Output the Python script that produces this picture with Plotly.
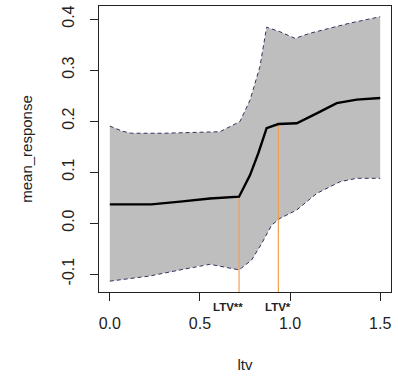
import plotly.graph_objects as go

# ---- data ----
mean_x = [0, 0.23, 0.39, 0.556, 0.717, 0.778, 0.824, 0.87, 0.935, 1.037, 1.148, 1.259, 1.37, 1.5]
mean_y = [0.0366, 0.0366, 0.042, 0.048, 0.0516, 0.094, 0.137, 0.186, 0.194, 0.1955, 0.215, 0.235, 0.242, 0.245]

upper_x = [0, 0.07, 0.12, 0.3, 0.611, 0.722, 0.778, 0.833, 0.87, 0.944, 1.028, 1.11, 1.333, 1.5]
upper_y = [0.19, 0.18, 0.176, 0.176, 0.179, 0.199, 0.241, 0.307, 0.384, 0.375, 0.362, 0.372, 0.392, 0.4045]

lower_x = [0, 0.22, 0.39, 0.5, 0.556, 0.717, 0.787, 0.843, 0.898, 0.944, 1.037, 1.148, 1.278, 1.37, 1.5]
lower_y = [-0.114, -0.104, -0.092, -0.084, -0.081, -0.092, -0.0725, -0.040, -0.004, 0.009, 0.0255, 0.058, 0.081, 0.0876, 0.0876]

ltv_thresholds = [0.717, 0.935]
ltv_threshold_means = [0.0516, 0.194]
ltv_labels = ["LTV**", "LTV*"]
ltv_label_x = [0.655, 0.933]

x_ticks = [0.0, 0.5, 1.0, 1.5]
x_ticklabels = ["0.0", "0.5", "1.0", "1.5"]
y_ticks = [-0.1, 0.0, 0.1, 0.2, 0.3, 0.4]
y_ticklabels = ["-0.1", "0.0", "0.1", "0.2", "0.3", "0.4"]

x_range = [-0.06, 1.56]
y_range = [-0.1353, 0.4255]

FONT = "Liberation Sans, Arial, sans-serif"
BAND = "#BEBEBE"
DASH = "#34345e"
ORANGE = "#F0A050"

fig = go.Figure()

# band: polygon from upper then reversed lower
fig.add_trace(go.Scatter(
    x=upper_x + lower_x[::-1], y=upper_y + lower_y[::-1],
    fill="toself", fillcolor=BAND, line=dict(width=0), mode="lines",
    hoverinfo="skip", showlegend=False))
fig.add_trace(go.Scatter(x=upper_x, y=upper_y, mode="lines",
                         line=dict(color=DASH, width=1, dash="4px,3px"), showlegend=False))
fig.add_trace(go.Scatter(x=lower_x, y=lower_y, mode="lines",
                         line=dict(color=DASH, width=1, dash="4px,3px"), showlegend=False))

for vx, vy in zip(ltv_thresholds, ltv_threshold_means):
    fig.add_trace(go.Scatter(x=[vx, vx], y=[y_range[0], vy], mode="lines",
                             line=dict(color=ORANGE, width=1.2), showlegend=False))

fig.add_trace(go.Scatter(x=mean_x, y=mean_y, mode="lines",
                         line=dict(color="black", width=2.4), showlegend=False))

for lx, lt in zip(ltv_label_x, ltv_labels):
    fig.add_annotation(x=lx, xref="x", y=0, yref="paper", yshift=-15,
                       text="<b>" + lt + "</b>", showarrow=False,
                       xanchor="center", yanchor="middle",
                       font=dict(family=FONT, size=11.5, color="#222"))

fig.update_layout(
    width=398, height=377,
    margin=dict(l=99, r=7, t=6, b=85),
    paper_bgcolor="white", plot_bgcolor="white",
    font=dict(family=FONT, color="#222"),
    showlegend=False,
)
fig.update_xaxes(range=x_range, tickvals=x_ticks, ticktext=x_ticklabels,
                 showline=True, mirror=True, linecolor="#222", linewidth=1.3,
                 ticks="outside", ticklen=8, tickcolor="#222", tickwidth=1,
                 showgrid=False, zeroline=False,
                 tickfont=dict(size=16), ticklabelstandoff=9,
                 title=dict(text="ltv", font=dict(size=15), standoff=28))
fig.update_yaxes(range=y_range, tickvals=y_ticks, ticktext=y_ticklabels,
                 showline=True, mirror=True, linecolor="#222", linewidth=1.3,
                 ticks="outside", ticklen=8, tickcolor="#222", tickwidth=1,
                 showgrid=False, zeroline=False, tickangle=-90,
                 tickfont=dict(size=16), ticklabelstandoff=9,
                 title=dict(text="mean_response", font=dict(size=15), standoff=24))

fig.write_html("out.html")
